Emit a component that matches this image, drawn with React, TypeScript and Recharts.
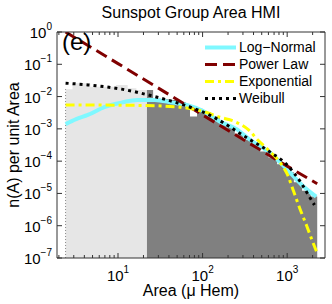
import React from "react";
import { ComposedChart, Area, Line, XAxis, YAxis, ReferenceLine } from "recharts";

// histogram, light part (areas below the fit range)
const lightEdges = [2.4, 2.9, 4.7, 9.5, 13, 16.5, 22];
const lightHeights = [0.017, 0.026, 0.02, 0.023, 0.018, 0.016, 0.016];

// histogram, dark part (fit range)
const darkEdges = [22, 26, 32, 40, 50, 63, 71, 86, 100, 125, 159, 192, 240, 300, 380, 480, 600, 760, 950, 1200, 1500, 1900, 2265];
const darkHeights = [0.016, 0.0085, 0.0082, 0.0078, 0.0068, 0.0058, 0.0024, 0.0042, 0.0033, 0.0024, 0.0015, 0.0011, 7e-4, 4.6e-4, 3e-4, 2e-4, 1.3e-4, 8e-5, 4.5e-5, 2.2e-5, 1.2e-5, 8e-6, 8e-6];

// fits
const logNormalX = [2.4, 3.2, 4.4, 7, 11, 17, 27, 44, 65, 100, 159, 250, 363, 630, 1000, 1500, 2200];
const logNormalY = [0.0014, 0.002, 0.0027, 0.0048, 0.0065, 0.0079, 0.0079, 0.0065, 0.0055, 0.0036, 0.0017, 0.001, 4.6e-4, 1.8e-4, 5.5e-5, 1.8e-5, 8e-6];

const powerLawX = [2.4, 10, 100, 1000, 2265];
const powerLawY = [1.0, 0.105, 0.0027, 7e-5, 2e-5];

const exponentialX = [2.4, 20, 54, 100, 160, 243, 350, 450, 600, 800, 1000, 1200, 1425, 1700, 2000, 2265];
const exponentialY = [0.0055, 0.0053, 0.0047, 0.0035, 0.0023, 0.00166, 9.3e-4, 4.5e-4, 2.2e-4, 1e-4, 4e-5, 1.1e-5, 3.2e-6, 1e-6, 3.2e-7, 1.4e-7];

const weibullX = [2.4, 4.4, 11, 27, 60, 120, 350, 630, 1000, 1465, 1870, 2100];
const weibullY = [0.026, 0.023, 0.017, 0.01, 0.0055, 0.0027, 4.9e-4, 1.9e-4, 7.6e-5, 2.1e-5, 7.2e-6, 4.4e-6];

const xTicks = [2, 3, 4, 5, 6, 7, 8, 9, 10, 20, 30, 40, 50, 60, 70, 80, 90, 100, 200, 300, 400, 500, 600, 700, 800, 900, 1000, 2000];
const yTicks = [1e-7, 1e-6, 1e-5, 1e-4, 1e-3, 1e-2, 1e-1, 1];

const seriesNames = ["Log\u2212Normal", "Power Law", "Exponential", "Weibull"];

const pts = (xs: number[], ys: number[]) => xs.map((x, i) => ({ x, y: ys[i] }));

const FONT = "'Liberation Sans', Arial, Helvetica, sans-serif";
const AXIS = "#333";

const CYAN = "#7ff8ff";
const RED = "#800000";
const YELLOW = "#ffff00";

const styles = [
  { color: CYAN, dash: undefined, w: 4 },
  { color: RED, dash: "12 6", w: 3 },
  { color: YELLOW, dash: "9 4 3 4", w: 3 },
  { color: "#000", dash: "3 4", w: 3 },
];

const expText = (v: number) => {
  const e = Math.round(Math.log10(v));
  return e < 0 ? "\u2212" + -e : String(e);
};
const isMajor = (v: number) => Math.abs(Math.log10(v) - Math.round(Math.log10(v))) < 1e-6;

const XTick = (props: any) => {
  const { x, y, payload, top } = props;
  const v = payload.value;
  const len = isMajor(v) ? 5 : 3;
  const dir = top ? 1 : -1;
  return (
    <g>
      <line x1={x} y1={y} x2={x} y2={y + dir * len} stroke={AXIS} />
      {!top && isMajor(v) && (
        <text x={x} y={y + 23} textAnchor="middle" fontSize={15} fontFamily={FONT} fill="#000">
          10<tspan dy={-8} fontSize={10}>{expText(v)}</tspan>
        </text>
      )}
    </g>
  );
};

const YTick = (props: any) => {
  const { x, y, payload, right } = props;
  const dir = right ? -1 : 1;
  return (
    <g>
      <line x1={x} y1={y} x2={x + dir * 5} y2={y} stroke={AXIS} />
      {!right && (
        <text x={x - 5} y={y + 6} textAnchor="end" fontSize={15} fontFamily={FONT} fill="#000">
          10<tspan dy={-8} fontSize={10}>{expText(payload.value)}</tspan>
        </text>
      )}
    </g>
  );
};

const LegendBox = () => (
  <div style={{ position: "absolute", left: 205, top: 39, fontFamily: FONT, fontSize: 14, lineHeight: "17px" }}>
    {seriesNames.map((n, i) => (
      <div key={n} style={{ display: "flex", alignItems: "center", height: 17 }}>
        <svg width={34} height={17}>
          <line x1={0} y1={8.5} x2={31} y2={8.5} stroke={styles[i].color} strokeWidth={styles[i].w} strokeDasharray={styles[i].dash} />
        </svg>
        <span style={{ color: "#000" }}>{n}</span>
      </div>
    ))}
  </div>
);

export default function App() {
  const xDomain = [1.9, 2800];
  const yDomain = [1e-7, 1];
  return (
    <div style={{ position: "absolute", left: 0, top: 0, width: 332, height: 304, background: "#fff" }}>
      <div style={{ position: "absolute", left: 0, width: 382, top: 4, textAlign: "center", fontFamily: FONT, fontSize: 16 }}>
        Sunspot Group Area HMI
      </div>
      <ComposedChart width={332} height={304} margin={{ top: 31, left: 56, right: 6, bottom: 45 }}>
        <XAxis xAxisId="b" dataKey="x" type="number" scale="log" domain={xDomain} allowDataOverflow ticks={xTicks} interval={0}
          height={1} tickSize={0} tickMargin={0} axisLine={{ stroke: AXIS }} tickLine={false} tick={(p: any) => <XTick {...p} />} />
        <XAxis xAxisId="t" orientation="top" dataKey="x" type="number" scale="log" domain={xDomain} allowDataOverflow ticks={xTicks} interval={0}
          height={1} tickSize={0} tickMargin={0} axisLine={{ stroke: AXIS }} tickLine={false} tick={(p: any) => <XTick {...p} top />} />
        <YAxis yAxisId="l" type="number" scale="log" domain={yDomain} allowDataOverflow ticks={yTicks} interval={0}
          width={1} tickSize={0} tickMargin={0} axisLine={{ stroke: AXIS }} tickLine={false} tick={(p: any) => <YTick {...p} />} />
        <YAxis yAxisId="r" orientation="right" type="number" scale="log" domain={yDomain} allowDataOverflow ticks={yTicks} interval={0}
          width={1} tickSize={0} tickMargin={0} axisLine={{ stroke: AXIS }} tickLine={false} tick={(p: any) => <YTick {...p} right />} />

        <Area xAxisId="b" yAxisId="l" data={pts(lightEdges, lightHeights)} dataKey="y" type="stepAfter" baseValue={1e-7}
          fill="#e6e6e6" fillOpacity={1} stroke="none" isAnimationActive={false} />
        <Area xAxisId="b" yAxisId="l" data={pts(darkEdges, darkHeights)} dataKey="y" type="stepAfter" baseValue={1e-7}
          fill="#808080" fillOpacity={1} stroke="none" isAnimationActive={false} />
        <ReferenceLine xAxisId="b" yAxisId="l" segment={[{ x: 2.4, y: 1e-7 }, { x: 2.4, y: 0.017 }]} stroke="#888" strokeDasharray="1 2" />

        <Line xAxisId="b" yAxisId="l" data={pts(logNormalX, logNormalY)} dataKey="y" name={seriesNames[0]} type="monotone"
          stroke={styles[0].color} strokeWidth={styles[0].w} dot={false} isAnimationActive={false} />
        <Line xAxisId="b" yAxisId="l" data={pts(powerLawX, powerLawY)} dataKey="y" name={seriesNames[1]} type="linear"
          stroke={styles[1].color} strokeWidth={styles[1].w} strokeDasharray={styles[1].dash} dot={false} isAnimationActive={false} />
        <Line xAxisId="b" yAxisId="l" data={pts(exponentialX, exponentialY)} dataKey="y" name={seriesNames[2]} type="monotone"
          stroke={styles[2].color} strokeWidth={styles[2].w} strokeDasharray={styles[2].dash} dot={false} isAnimationActive={false} />
        <Line xAxisId="b" yAxisId="l" data={pts(weibullX, weibullY)} dataKey="y" name={seriesNames[3]} type="monotone"
          stroke={styles[3].color} strokeWidth={styles[3].w} strokeDasharray={styles[3].dash} dot={false} isAnimationActive={false} />
      </ComposedChart>
      <LegendBox />
      <div style={{ position: "absolute", left: 62, top: 28, fontFamily: FONT, fontSize: 24 }}>(e)</div>
      <div style={{ position: "absolute", left: 0, width: 382, top: 283, lineHeight: "16px", textAlign: "center", fontFamily: FONT, fontSize: 16 }}>
        Area ({"\u03bc"} Hem)
      </div>
      <div style={{ position: "absolute", left: 14, top: 145, fontFamily: FONT, fontSize: 16, whiteSpace: "nowrap",
        transform: "translate(-50%, -50%) rotate(-90deg)" }}>
        n(A) per unit Area
      </div>
    </div>
  );
}
